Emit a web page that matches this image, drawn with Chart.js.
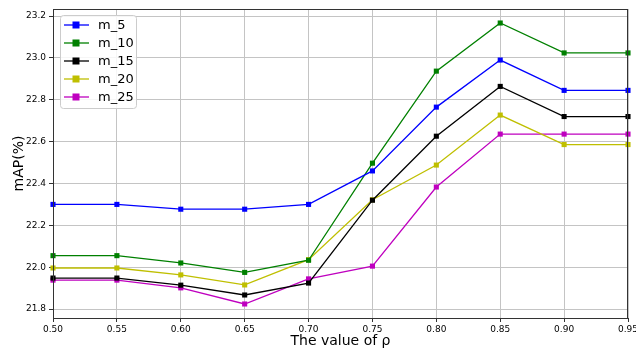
<!DOCTYPE html>
<html>
<head>
<meta charset="utf-8">
<script src="https://cdn.jsdelivr.net/npm/chart.js@4.4.3/dist/chart.umd.min.js"></script>
<style>
  html, body { margin: 0; padding: 0; background: #fff; }
  #wrap { width: 636px; height: 348px; }
</style>
</head>
<body>
<div id="wrap"><canvas id="c" width="636" height="348"></canvas></div>
<script>
const RHO = [0.50, 0.55, 0.60, 0.65, 0.70, 0.75, 0.80, 0.85, 0.90, 0.95];
const M5  = [22.30, 22.30, 22.277, 22.277, 22.30, 22.46, 22.765, 22.99, 22.845, 22.845];
const M10 = [22.055, 22.055, 22.02, 21.975, 22.033, 22.497, 22.937, 23.167, 23.024, 23.024];
const M15 = [21.948, 21.948, 21.914, 21.867, 21.924, 22.32, 22.626, 22.864, 22.72, 22.72];
const M20 = [21.996, 21.996, 21.963, 21.915, 22.036, 22.322, 22.488, 22.727, 22.586, 22.586];
const M25 = [21.938, 21.938, 21.901, 21.824, 21.944, 22.005, 22.383, 22.636, 22.636, 22.636];
const SERIES_NAMES = ['m_5', 'm_10', 'm_15', 'm_20', 'm_25'];
const SERIES_COLORS = ['#0000ff', '#008000', '#000000', '#bfbf00', '#bf00bf'];
const X_TICKS = [0.50, 0.55, 0.60, 0.65, 0.70, 0.75, 0.80, 0.85, 0.90, 0.95];
const Y_TICKS = [21.8, 22.0, 22.2, 22.4, 22.6, 22.8, 23.0, 23.2];

const font = 'DejaVu Sans';
const values = [M5, M10, M15, M20, M25];

const datasets = values.map((vals, i) => ({
  label: SERIES_NAMES[i],
  data: vals.map((v, j) => ({ x: RHO[j], y: v })),
  borderColor: SERIES_COLORS[i],
  backgroundColor: SERIES_COLORS[i],
  borderWidth: 1.3,
  pointStyle: 'rect',
  pointRadius: 3.6,
  pointBorderWidth: 0,
  tension: 0,
  clip: 4
}));

// matplotlib-like legend inside the axes, plus the top/right spines
const boxLegend = {
  id: 'boxLegend',
  afterDraw(chart) {
    const ctx = chart.ctx;
    const a = chart.chartArea;
    ctx.save();
    ctx.strokeStyle = '#333';
    ctx.lineWidth = 1;
    ctx.strokeRect(a.left + 0.5, a.top + 0.5, a.right - a.left - 1, a.bottom - a.top);

    const x0 = 60, y0 = 15, w = 76, h = 93;
    ctx.fillStyle = 'rgba(255,255,255,0.85)';
    ctx.strokeStyle = '#cccccc';
    ctx.beginPath();
    ctx.roundRect(x0 + 0.5, y0 + 0.5, w, h, 3);
    ctx.fill();
    ctx.stroke();

    ctx.font = '13px "' + font + '"';
    ctx.textBaseline = 'middle';
    chart.data.datasets.forEach((ds, i) => {
      const y = 25 + i * 18;
      ctx.strokeStyle = ds.borderColor;
      ctx.lineWidth = 1.3;
      ctx.beginPath();
      ctx.moveTo(64, y);
      ctx.lineTo(89, y);
      ctx.stroke();
      ctx.fillStyle = ds.borderColor;
      ctx.fillRect(72.5, y - 3.5, 7, 7);
      ctx.fillStyle = '#000';
      ctx.fillText(ds.label, 98, y + 1);
    });
    ctx.restore();
  }
};

new Chart(document.getElementById('c'), {
  type: 'line',
  data: { datasets },
  options: {
    responsive: false,
    animation: false,
    layout: { padding: { top: 9, right: 8, left: 0, bottom: 0 } },
    plugins: { legend: { display: false }, tooltip: { enabled: false } },
    scales: {
      x: {
        type: 'linear',
        min: 0.50,
        max: 0.95,
        afterBuildTicks: s => { s.ticks = X_TICKS.map(v => ({ value: v })); },
        afterFit: s => { s.height = 30; s.paddingLeft = 0; s.paddingRight = 0; },
        ticks: {
          font: { family: font, size: 9 },
          color: '#000',
          padding: 2,
          maxRotation: 0,
          autoSkip: false,
          callback: v => v.toFixed(2)
        },
        grid: { color: '#c4c4c4', lineWidth: 1, tickLength: 4, tickColor: '#333' },
        border: { color: '#333', width: 1 },
        title: {
          display: true,
          text: 'The value of ρ',
          font: { family: font, size: 14 },
          color: '#000',
          padding: { top: 0, bottom: -2 }
        }
      },
      y: {
        type: 'linear',
        min: 21.757,
        max: 23.234,
        afterBuildTicks: s => { s.ticks = Y_TICKS.map(v => ({ value: v })); },
        afterFit: s => { s.width = 53; },
        ticks: {
          font: { family: font, size: 9 },
          color: '#000',
          padding: 3,
          callback: v => v.toFixed(1)
        },
        grid: { color: '#c4c4c4', lineWidth: 1, tickLength: 4, tickColor: '#333' },
        border: { color: '#333', width: 1 },
        title: {
          display: true,
          text: 'mAP(%)',
          font: { family: font, size: 14 },
          color: '#000',
          padding: { top: 11, bottom: 0 }
        }
      }
    }
  },
  plugins: [boxLegend]
});
</script>
</body>
</html>
